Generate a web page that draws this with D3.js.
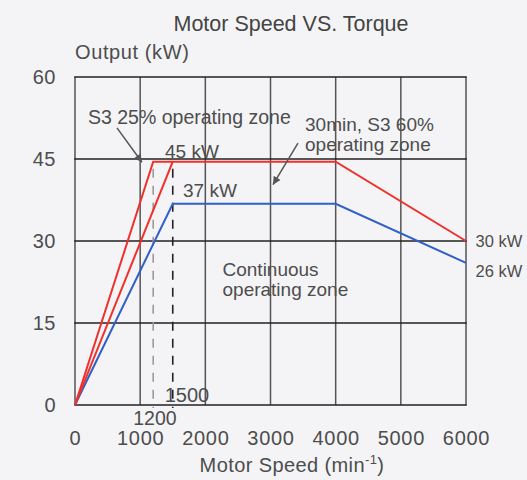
<!DOCTYPE html>
<html>
<head>
<meta charset="utf-8">
<script src="https://cdn.jsdelivr.net/npm/d3@7"></script>
<style>
  html, body { margin: 0; padding: 0; background: #f4f4f6; }
  svg { display: block; }
  text { font-family: "Liberation Sans", Arial, Helvetica, sans-serif; fill: #4d4d4d; }
</style>
</head>
<body>
<svg id="chart" width="527" height="480"></svg>
<script>
// ---- data ----
const speedTicks = [0, 1000, 2000, 3000, 4000, 5000, 6000];
const outputTicks = [0, 15, 30, 45, 60];

// S3 25% operating zone (outer red)
const s3_25Speed  = [0, 1200, 4000, 6000];
const s3_25Output = [0, 44.5, 44.5, 30];
// 30min, S3 60% operating zone (inner red, rising part)
const s3_60Speed  = [0, 1500];
const s3_60Output = [0, 44.5];
// Continuous operating zone (blue)
const contSpeed  = [0, 1500, 4000, 6000];
const contOutput = [0, 36.8, 36.8, 26];

// reference speeds marked with dashed lines
const markSpeeds = [1200, 1500];
const markLabels = ["1200", "1500"];

// ---- layout ----
const svg = d3.select("#chart");
const x = d3.scaleLinear().domain([0, 6000]).range([75, 466]);
const y = d3.scaleLinear().domain([0, 60]).range([405, 77]);

// title
svg.append("text").attr("x", 291).attr("y", 31)
  .attr("text-anchor", "middle").style("font-size", "21.5px").style("fill", "#444")
  .text("Motor Speed VS. Torque");

// y axis title
svg.append("text").attr("x", 75).attr("y", 59)
  .style("font-size", "20px").style("letter-spacing", "0.6px")
  .text("Output (kW)");

// grid
const grid = svg.append("g");
grid.selectAll("line.v").data(speedTicks).join("line")
  .attr("class", "v")
  .attr("x1", d => x(d)).attr("x2", d => x(d))
  .attr("y1", y(60)).attr("y2", y(0))
  .attr("stroke", "#555").attr("stroke-width", 1.5);
grid.selectAll("line.h").data(outputTicks).join("line")
  .attr("class", "h")
  .attr("x1", x(0) - 0.75).attr("x2", x(6000) + 0.75)
  .attr("y1", d => y(d)).attr("y2", d => y(d))
  .attr("stroke", "#222").attr("stroke-width", 1.5);

// axes (labels only)
const xAxis = svg.append("g").attr("transform", `translate(0,${y(0)})`)
  .call(d3.axisBottom(x).tickValues(speedTicks).tickSize(0).tickPadding(26).tickFormat(d3.format("d")));
xAxis.select(".domain").remove();
xAxis.selectAll("text").style("font-size", "20px").style("letter-spacing", "0.7px")
  .attr("fill", null).attr("dy", "0.71em");

const yAxis = svg.append("g").attr("transform", `translate(${x(0)},0)`)
  .call(d3.axisLeft(y).tickValues(outputTicks).tickSize(0).tickPadding(19).tickFormat(d3.format("d")));
yAxis.select(".domain").remove();
yAxis.selectAll("text").style("font-size", "20px").style("letter-spacing", "0.5px")
  .attr("fill", null);

// x axis title with superscript
const xt = svg.append("text").attr("x", 292).attr("y", 472)
  .attr("text-anchor", "middle").style("font-size", "20px").style("letter-spacing", "0.4px");
xt.append("tspan").text("Motor Speed (min");
xt.append("tspan").attr("dy", -8).style("font-size", "13px").text("-1");
xt.append("tspan").attr("dy", 8).text(")");

// dashed reference lines
const dashColors = ["#9a9a9a", "#222"];
svg.selectAll("line.mark").data(markSpeeds).join("line")
  .attr("class", "mark")
  .attr("x1", d => x(d)).attr("x2", d => x(d))
  .attr("y1", y(43.2)).attr("y2", y(0) + 3)
  .attr("stroke", (d, i) => dashColors[i]).attr("stroke-width", 1.6)
  .attr("stroke-dasharray", "9,8");

// lines
const line = d3.line().x(d => x(d[0])).y(d => y(d[1]));
const zip = (a, b) => a.map((v, i) => [v, b[i]]);

svg.append("path").datum(zip(contSpeed, contOutput)).attr("d", line)
  .attr("fill", "none").attr("stroke", "#2f5fc8").attr("stroke-width", 2);
svg.append("path").datum(zip(s3_60Speed, s3_60Output)).attr("d", line)
  .attr("fill", "none").attr("stroke", "#f0302a").attr("stroke-width", 2);
svg.append("path").datum(zip(s3_25Speed, s3_25Output)).attr("d", line)
  .attr("fill", "none").attr("stroke", "#f0302a").attr("stroke-width", 2);

// mark labels
svg.append("text").attr("x", x(markSpeeds[0]) - 20).attr("y", 425)
  .style("font-size", "19.5px").text(markLabels[0]);
svg.append("text").attr("x", x(markSpeeds[1]) - 8).attr("y", 401.5)
  .style("font-size", "20px").text(markLabels[1]);

// annotations
const annText = [
  { t: "S3 25% operating zone", x: 88, y: 124, s: 19.5 },
  { t: "45 kW", x: 165, y: 157.5, s: 19 },
  { t: "37 kW", x: 183, y: 196.5, s: 19 },
  { t: "30min, S3 60%", x: 305, y: 131, s: 19 },
  { t: "operating zone", x: 305, y: 150.5, s: 19 },
  { t: "Continuous", x: 222.5, y: 276, s: 19 },
  { t: "operating zone", x: 222.5, y: 296, s: 19 },
  { t: "30 kW", x: 475.5, y: 246.5, s: 16.5 },
  { t: "26 kW", x: 475.5, y: 276.5, s: 16.5 }
];
svg.selectAll("text.ann").data(annText).join("text")
  .attr("class", "ann")
  .attr("x", d => d.x).attr("y", d => d.y)
  .style("font-size", d => d.s + "px")
  .text(d => d.t);

// arrows (data space)
const arrows = [
  { from: [644, 50.7], to: [1028, 44.4] },
  { from: [3422, 47.9], to: [3038, 40.3] }
];
svg.append("defs").append("marker")
  .attr("id", "ah").attr("viewBox", "0 0 10 10")
  .attr("refX", 10).attr("refY", 5)
  .attr("markerWidth", 10).attr("markerHeight", 8)
  .attr("markerUnits", "userSpaceOnUse")
  .attr("orient", "auto")
  .append("path").attr("d", "M0,0 L10,5 L0,10 Z").attr("fill", "#555");
svg.selectAll("line.arrow").data(arrows).join("line")
  .attr("class", "arrow")
  .attr("x1", d => x(d.from[0])).attr("y1", d => y(d.from[1]))
  .attr("x2", d => x(d.to[0])).attr("y2", d => y(d.to[1]))
  .attr("stroke", "#555").attr("stroke-width", 1.5)
  .attr("marker-end", "url(#ah)");
</script>
</body>
</html>
